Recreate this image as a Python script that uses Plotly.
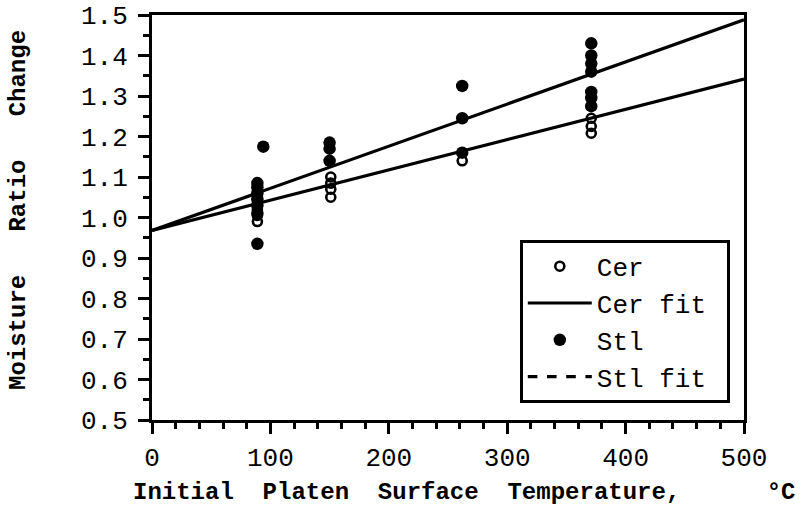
import plotly.graph_objects as go

# Ceramic platen runs (open circles)
cer_temp = [89, 89, 89, 151, 151, 151, 151, 262, 371, 371, 371]
cer_ratio = [1.02, 1.005, 0.99, 1.10, 1.085, 1.07, 1.05, 1.14, 1.245, 1.225, 1.208]

# Steel platen runs (filled circles)
stl_temp = [89, 89, 89, 89, 89, 89, 89, 94, 150, 150, 150, 262, 262, 262,
            371, 371, 371, 371, 371, 371, 371]
stl_ratio = [1.085, 1.075, 1.06, 1.045, 1.03, 1.01, 0.935, 1.175, 1.185, 1.17, 1.14,
             1.325, 1.245, 1.16, 1.43, 1.40, 1.38, 1.36, 1.31, 1.295, 1.275]

# Linear fits: ratio = intercept + slope * temperature
cer_fit = (0.968, 0.000748)
stl_fit = (0.968, 0.00104)
fit_temp = [0, 500]

x_ticks = [0, 100, 200, 300, 400, 500]
y_ticks = [0.5, 0.6, 0.7, 0.8, 0.9, 1.0, 1.1, 1.2, 1.3, 1.4, 1.5]

MONO = "Liberation Mono, Courier New, monospace"
NB = "\u00a0"


def fit_line(coef, xs):
    return [coef[0] + coef[1] * x for x in xs]


fig = go.Figure()

fig.add_trace(go.Scatter(
    x=cer_temp, y=cer_ratio, mode="markers", name="Cer" + NB,
    marker=dict(symbol="circle-open", size=9, color="black", line=dict(width=2.6)),
))
fig.add_trace(go.Scatter(
    x=fit_temp, y=fit_line(cer_fit, fit_temp), mode="lines", name="Cer fit" + NB,
    line=dict(color="black", width=3.2),
))
fig.add_trace(go.Scatter(
    x=stl_temp, y=stl_ratio, mode="markers", name="Stl" + NB,
    marker=dict(symbol="circle", size=12.5, color="black"),
))
fig.add_trace(go.Scatter(
    x=fit_temp, y=fit_line(stl_fit, fit_temp), mode="lines", name="Stl fit",
    line=dict(color="black", width=3.2), showlegend=False,
))
# legend key for the steel fit
fig.add_trace(go.Scatter(
    x=[None], y=[None], mode="lines", name="Stl fit" + NB,
    line=dict(color="black", width=3.2, dash="dash"),
))

axis_common = dict(
    showline=True, linecolor="black", linewidth=3, mirror=True,
    ticks="outside", ticklen=11, tickwidth=2.5, tickcolor="black",
    showgrid=False, zeroline=False, automargin=False,
    tickfont=dict(family=MONO, size=26, color="black"),
)

fig.update_xaxes(
    range=[0, 500], tickvals=x_ticks, ticklabelstandoff=1,
    minor=dict(dtick=20, ticks="outside", ticklen=6, tickwidth=2.5, tickcolor="black"),
    **axis_common,
)
fig.update_yaxes(
    range=[0.5, 1.5], tickvals=y_ticks, tickformat=".1f", ticklabelstandoff=5,
    minor=dict(dtick=0.05, ticks="outside", ticklen=6, tickwidth=2.5, tickcolor="black"),
    **axis_common,
)

fig.add_annotation(
    text=f"Initial{NB*2}Platen{NB*2}Surface{NB*2}Temperature,{NB*6}°C",
    xref="paper", yref="paper", x=(131 - 152) / 592, y=(420 - 492) / 405,
    xanchor="left", yanchor="middle", showarrow=False,
    font=dict(family=MONO, size=24, color="black", weight="bold"),
)
fig.add_annotation(
    text=f"Moisture{NB*3}Ratio{NB*3}Change",
    xref="paper", yref="paper", x=(18 - 152) / 592, y=(420 - 210) / 405,
    xanchor="center", yanchor="middle", textangle=-90, showarrow=False,
    font=dict(family=MONO, size=24, color="black", weight="bold"),
)

fig.update_layout(
    width=808, height=506,
    margin=dict(l=152, r=64, t=15, b=86),
    plot_bgcolor="white", paper_bgcolor="white",
    showlegend=True,
    legend=dict(
        x=(520 - 152) / 592, y=(420 - 240) / 405, xanchor="left", yanchor="top",
        bgcolor="white", bordercolor="black", borderwidth=2.8,
        font=dict(family=MONO, size=26, color="black"),
        itemwidth=64, tracegroupgap=0,
    ),
)

fig.write_html("out.html")
